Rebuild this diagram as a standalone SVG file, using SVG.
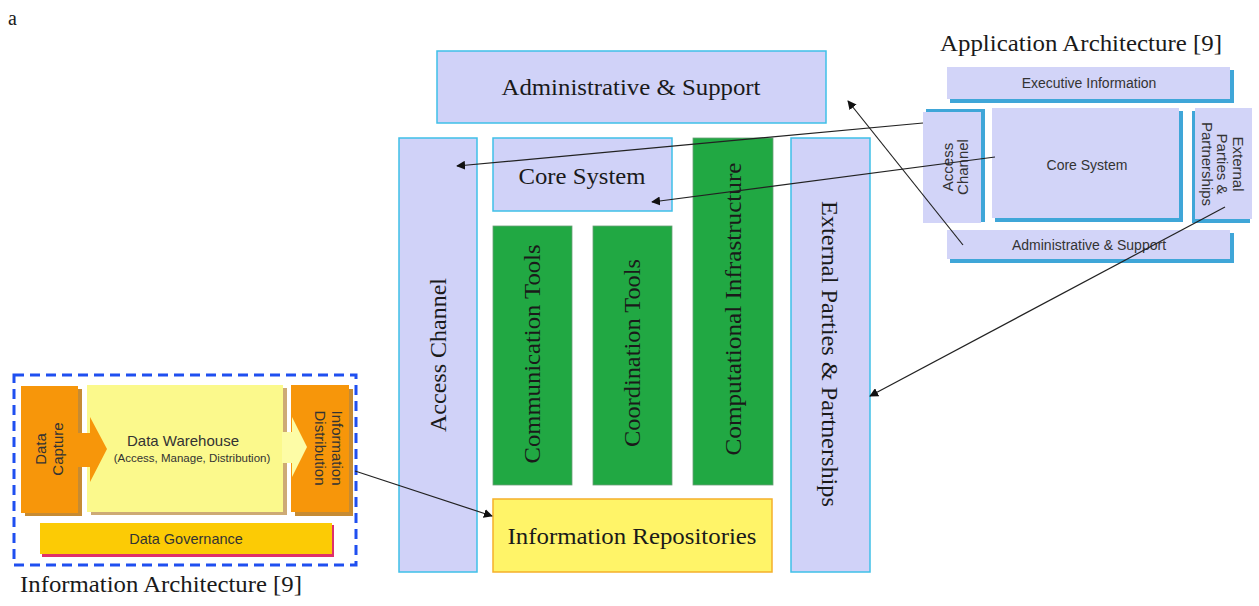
<svg xmlns="http://www.w3.org/2000/svg" width="1259" height="606" viewBox="0 0 1259 606">
<style>
.lav{fill:#d0d2f8;stroke:#3fc0e8;stroke-width:1.5}
.grn{fill:#21a843;stroke:#6c9f78;stroke-width:0.8}
.ser{font-family:"Liberation Serif","Times New Roman",serif;fill:#1a1a1a}
.big{font-size:24px}
.ttl{font-size:23px}
.san{font-family:"Liberation Sans",Arial,sans-serif;fill:#333}
.sm{font-size:14px}
.sr{font-size:15px}
.sl{fill:#d2d4f8}
.sh{fill:#3fa6d8}
.cn{stroke:#222;stroke-width:1.2;fill:none;marker-end:url(#ah)}
</style>
<defs>
<marker id="ah" viewBox="0 0 10 10" refX="9" refY="5" markerWidth="9" markerHeight="9" markerUnits="userSpaceOnUse" orient="auto">
<path d="M0,0 L10,5 L0,10 z" fill="#111"/>
</marker>
</defs>
<rect width="1259" height="606" fill="#fff"/>
<text class="ser" x="8" y="25" font-size="20">a</text>

<g id="admin-main">
<rect class="lav" x="437" y="51" width="389" height="72"/>
<text class="ser big" x="631" y="95" text-anchor="middle" textLength="259" lengthAdjust="spacingAndGlyphs">Administrative &amp; Support</text>
</g>
<g id="access-main">
<rect class="lav" x="399" y="138" width="78" height="434"/>
<text class="ser big" transform="translate(438,355) rotate(-90)" text-anchor="middle" dy="0.35em" textLength="154" lengthAdjust="spacingAndGlyphs">Access Channel</text>
</g>
<g id="core-main">
<rect class="lav" x="493" y="138" width="179" height="73"/>
<text class="ser big" x="582" y="184" text-anchor="middle" textLength="127" lengthAdjust="spacingAndGlyphs">Core System</text>
</g>
<g id="communication">
<rect class="grn" x="493" y="226" width="79" height="259"/>
<text class="ser big" transform="translate(532,354) rotate(-90)" text-anchor="middle" dy="0.35em" textLength="219" lengthAdjust="spacingAndGlyphs">Communication Tools</text>
</g>
<g id="coordination">
<rect class="grn" x="593" y="226" width="79" height="259"/>
<text class="ser big" transform="translate(632,353) rotate(-90)" text-anchor="middle" dy="0.35em" textLength="188" lengthAdjust="spacingAndGlyphs">Coordination Tools</text>
</g>
<g id="computational">
<rect class="grn" x="693" y="138" width="80" height="347"/>
<text class="ser big" transform="translate(733,309) rotate(-90)" text-anchor="middle" dy="0.35em" textLength="293" lengthAdjust="spacingAndGlyphs">Computational Infrastructure</text>
</g>
<g id="external-main">
<rect class="lav" x="791" y="138" width="79" height="434"/>
<text class="ser big" transform="translate(830,354) rotate(90)" text-anchor="middle" dy="0.35em" textLength="306" lengthAdjust="spacingAndGlyphs">External Parties &amp; Partnerships</text>
</g>
<g id="repositories">
<rect x="493" y="499" width="279" height="73" fill="#fff468" stroke="#f5b02a" stroke-width="1.5"/>
<text class="ser big" x="632" y="544" text-anchor="middle" textLength="249" lengthAdjust="spacingAndGlyphs">Information Repositories</text>
</g>

<g id="app-arch">
<text class="ser ttl" x="940" y="51" textLength="282" lengthAdjust="spacingAndGlyphs">Application Architecture [9]</text>
<g id="app-exec">
<rect class="sh" x="950" y="70" width="284" height="33"/>
<rect class="sl" x="947" y="67" width="283" height="32"/>
<text class="san sm" x="1089" y="88" text-anchor="middle">Executive Information</text>
</g>
<g id="app-access">
<rect class="sh" x="926" y="109" width="59" height="113"/>
<rect class="sl" x="923" y="112" width="58" height="111"/>
<text class="san sr" transform="translate(955,167) rotate(-90)" text-anchor="middle"><tspan x="0" y="-2">Access</tspan><tspan x="0" y="13">Channel</tspan></text>
</g>
<g id="app-core">
<rect class="sh" x="995" y="111" width="188" height="111"/>
<rect class="sl" x="992" y="108" width="187" height="110"/>
<text class="san sm" x="1087" y="170" text-anchor="middle">Core System</text>
</g>
<g id="app-external">
<rect class="sh" x="1192" y="111" width="58" height="112"/>
<rect class="sl" x="1195" y="108" width="57" height="111"/>
<text class="san sr" transform="translate(1222,164) rotate(90)" text-anchor="middle"><tspan x="0" y="-11">External</tspan><tspan x="0" y="5">Parties &amp;</tspan><tspan x="0" y="20">Partnerships</tspan></text>
</g>
<g id="app-admin">
<rect class="sh" x="950" y="233" width="284" height="30"/>
<rect class="sl" x="947" y="230" width="283" height="29"/>
<text class="san sm" x="1089" y="250" text-anchor="middle">Administrative &amp; Support</text>
</g>
</g>

<g id="info-arch">
<rect x="14" y="375" width="342" height="190" fill="none" stroke="#1f4ff0" stroke-width="3" stroke-dasharray="10,6"/>
<g id="data-warehouse">
<rect x="91" y="388" width="196" height="127" fill="#b8863a" opacity="0.7"/>
<rect x="87" y="385" width="196" height="127" fill="#fbf98c"/>
<text class="san" font-size="15" x="183" y="446" text-anchor="middle" fill="#444">Data Warehouse</text>
<text class="san" font-size="11.5" x="192" y="462" text-anchor="middle" fill="#444">(Access, Manage, Distribution)</text>
</g>
<g id="data-capture">
<rect x="25" y="389" width="57" height="127" fill="#b86e00" opacity="0.8"/>
<rect x="21" y="386" width="57" height="127" fill="#f7960a"/>
<path d="M77,433 L90,433 L90,417 L107,449 L90,482 L90,467 L77,467 z" fill="#f7960a"/>
<text class="san" font-size="15" transform="translate(49,449) rotate(-90)" text-anchor="middle" fill="#5a3000"><tspan x="0" y="-3">Data</tspan><tspan x="0" y="14">Capture</tspan></text>
</g>
<g id="info-distribution">
<path d="M282,432 L292,432 L292,417 L307,447 L292,477 L292,463 L282,463 z" fill="#fdfca6"/>
<rect x="295" y="389" width="58" height="127" fill="#b86e00" opacity="0.8"/>
<rect x="291" y="385" width="58" height="127" fill="#f7960a"/>
<path d="M291,432 L292,432 L292,417 L307,447 L292,477 L292,463 L291,463 z" fill="#fdfca6"/>
<text class="san" font-size="15" transform="translate(328,448) rotate(90)" text-anchor="middle" fill="#5a3000"><tspan x="0" y="-4">Information</tspan><tspan x="0" y="13">Distribution</tspan></text>
</g>
<g id="data-governance">
<rect x="42" y="525" width="292" height="32" fill="#e0306a"/>
<rect x="40" y="523" width="292" height="31" fill="#fccb05"/>
<text class="san" font-size="14.5" x="186" y="544" text-anchor="middle" fill="#444">Data Governance</text>
</g>
<text class="ser ttl" x="20" y="592" textLength="282" lengthAdjust="spacingAndGlyphs">Information Architecture [9]</text>
</g>

<g id="connectors">
<line class="cn" x1="923" y1="123" x2="457" y2="166"/>
<line class="cn" x1="995" y1="157" x2="652" y2="202"/>
<line class="cn" x1="963" y1="245" x2="848" y2="101"/>
<line class="cn" x1="1225" y1="207" x2="870" y2="396"/>
<line class="cn" x1="355" y1="471" x2="492" y2="516"/>
</g>
</svg>
